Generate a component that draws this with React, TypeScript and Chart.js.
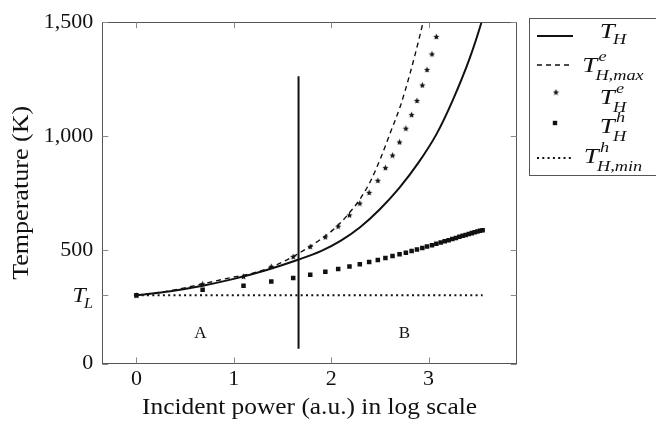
import React, { useEffect, useRef } from 'react';
import { Chart, registerables } from 'chart.js';

Chart.register(...registerables);

// ---------- data ----------
const xTickValues = [0, 1, 2, 3];
const yTickValues = [0, 300, 500, 1000, 1500];
const yTickLabels = ['0', '', '500', '1,000', '1,500'];
const T_L = 300;

// T_H (solid)
const thX = [0, 0.35, 0.68, 1.0, 1.33, 1.66, 1.9, 2.1, 2.3, 2.5, 2.7, 2.9, 3.08, 3.25, 3.42, 3.543, 3.56];
const thY = [300, 318, 342, 372, 410, 456, 495, 540, 600, 678, 772, 885, 1007, 1159, 1339, 1499, 1525];

// T^e_{H,max} (dashed)
const tmaxX = [0, 0.35, 0.7, 1.0, 1.17, 1.41, 1.65, 1.89, 2.04, 2.163, 2.3, 2.402, 2.505, 2.608, 2.71, 2.81, 2.91, 2.96];
const tmaxY = [300, 320, 352, 380, 394, 428, 480, 545, 595, 650, 725, 800, 900, 1015, 1131, 1275, 1440, 1530];

// marker positions (stars / squares)
const markerX = [0, 0.68, 1.1, 1.385, 1.61, 1.785, 1.94, 2.072, 2.188, 2.294, 2.39, 2.479, 2.557, 2.63, 2.702, 2.767,
  2.826, 2.881, 2.936, 2.984, 3.035, 3.08, 3.125, 3.166, 3.206, 3.244, 3.281, 3.316, 3.35, 3.382, 3.413, 3.444,
  3.473, 3.501, 3.528, 3.555];
// T^e_H (stars)
const teY = [300, 350, 383, 427, 470, 514, 557, 604, 653, 705, 752, 805, 861, 916, 974, 1034, 1094, 1156, 1224, 1292, 1361, 1437];
// T^h_H (squares)
const thhY = [300, 324, 342, 360, 376, 390, 403, 415, 426, 436, 446, 455, 464, 472, 480, 487, 494, 501, 508, 514, 520,
  526, 532, 537, 542, 547, 552, 557, 561, 565, 569, 573, 577, 580, 583, 586];

// T^h_{H,min} (dotted)
const tminX = [0, 3.555];
const tminY = [300, 300];

// boundary between regions
const boundaryX = [1.665, 1.665];
const boundaryY = [65, 1262];

const regionLabels = ['A', 'B'];
const regionX = [0.657, 2.752];
const regionY = [132, 132];

const legendSup = ['', 'e', 'e', 'h', 'h'];
const legendSub = ['H', 'H,max', 'H', 'H', 'H,min'];

const xTitle = 'Incident power (a.u.) in log scale';
const yTitle = 'Temperature (K)';

// ---------- helpers ----------
const zip = (xs: number[], ys: number[]) => ys.map((y, i) => ({ x: xs[i], y }));
const INK = '#111111';
const SERIF = '"Liberation Serif", "Times New Roman", serif';

function makeStar(size: number) {
  const c = document.createElement('canvas');
  c.width = size;
  c.height = size;
  const g = c.getContext('2d')!;
  g.fillStyle = INK;
  g.beginPath();
  const R = size / 2 - 0.2;
  for (let i = 0; i < 10; i++) {
    const r = i % 2 === 0 ? R : R * 0.45;
    const a = -Math.PI / 2 + (i * Math.PI) / 5;
    const px = size / 2 + r * Math.cos(a);
    const py = size / 2 + 0.4 + r * Math.sin(a);
    if (i === 0) g.moveTo(px, py);
    else g.lineTo(px, py);
  }
  g.closePath();
  g.fill();
  return c;
}

function drawFit(ctx: CanvasRenderingContext2D, text: string, cx: number, baseline: number, font: string, width: number) {
  ctx.save();
  ctx.font = font;
  const w = ctx.measureText(text).width;
  const s = width / w;
  ctx.translate(cx, baseline);
  ctx.scale(s, 1);
  ctx.textAlign = 'center';
  ctx.textBaseline = 'alphabetic';
  ctx.fillText(text, 0, 0);
  ctx.restore();
}

function drawMath(
  ctx: CanvasRenderingContext2D, anchorX: number, base: number, sup: string, sub: string,
  size: number, stretch: number, align: 'center' | 'right'
) {
  const small = Math.round(size * 0.7);
  const f1 = `italic ${size}px ${SERIF}`;
  const f2 = `italic ${small}px ${SERIF}`;
  ctx.save();
  ctx.font = f1;
  const wT = ctx.measureText('T').width;
  ctx.font = f2;
  const wSup = sup ? ctx.measureText(sup).width : 0;
  const wSub = sub ? ctx.measureText(sub).width : 0;
  const total = wT + Math.max(sup ? wSup + 1 : 0, sub ? wSub - 1.5 : 0);
  const left = align === 'center' ? anchorX - (total * stretch) / 2 : anchorX - total * stretch;
  ctx.translate(left, base);
  ctx.scale(stretch, 1);
  ctx.textAlign = 'left';
  ctx.textBaseline = 'alphabetic';
  ctx.font = f1;
  ctx.fillText('T', 0, 0);
  ctx.font = f2;
  if (sup) ctx.fillText(sup, wT + 1, -size * 0.48);
  if (sub) ctx.fillText(sub, wT - 1.5, sup ? size * 0.36 : size * 0.25);
  ctx.restore();
}

export default function App() {
  const ref = useRef<HTMLCanvasElement | null>(null);

  useEffect(() => {
    document.body.style.margin = '0';
    const canvas = ref.current!;
    const star = makeStar(7);

    const overlay = {
      id: 'overlay',
      afterDatasetsDraw(chart: any) {
        const { ctx, chartArea: a, scales } = chart;
        const x = scales.x;
        const y = scales.y;
        ctx.save();
        // axis box
        ctx.strokeStyle = '#555';
        ctx.lineWidth = 1;
        ctx.setLineDash([]);
        ctx.strokeRect(Math.round(a.left) + 0.5, Math.round(a.top) + 0.5, Math.round(a.right - a.left), Math.round(a.bottom - a.top));
        // inner tick marks
        ctx.strokeStyle = '#888';
        ctx.beginPath();
        xTickValues.forEach((v) => {
          const px = Math.round(x.getPixelForValue(v)) + 0.5;
          ctx.moveTo(px, a.bottom);
          ctx.lineTo(px, a.bottom - 6);
          ctx.moveTo(px, a.top);
          ctx.lineTo(px, a.top + 6);
        });
        yTickValues.forEach((v) => {
          const py = Math.round(y.getPixelForValue(v)) + 0.5;
          ctx.moveTo(a.left, py);
          ctx.lineTo(a.left + 6, py);
          ctx.moveTo(a.right, py);
          ctx.lineTo(a.right - 6, py);
        });
        ctx.stroke();

        ctx.fillStyle = INK;
        // T_L tick label
        drawMath(ctx, 93, y.getPixelForValue(T_L) + 7, '', 'L', 22, 1.08, 'right');

        // region labels
        ctx.font = `17px ${SERIF}`;
        ctx.textAlign = 'center';
        ctx.textBaseline = 'middle';
        regionLabels.forEach((t, i) => {
          ctx.fillText(t, x.getPixelForValue(regionX[i]), y.getPixelForValue(regionY[i]));
        });

        // axis titles
        drawFit(ctx, xTitle, (a.left + a.right) / 2, 414, `23px ${SERIF}`, 335);
        ctx.save();
        ctx.translate(28, (a.top + a.bottom) / 2);
        ctx.rotate(-Math.PI / 2);
        drawFit(ctx, yTitle, 0, 0, `23px ${SERIF}`, 174);
        ctx.restore();

        // legend
        ctx.strokeStyle = '#555';
        ctx.lineWidth = 1;
        ctx.strokeRect(529.5, 18.5, 150, 157);
        const rowsY = [36, 65, 92, 123, 158];
        const baseT = [38, 72, 104, 133, 163];
        ctx.strokeStyle = INK;
        // solid
        ctx.lineWidth = 2;
        ctx.setLineDash([]);
        ctx.beginPath();
        ctx.moveTo(537, rowsY[0]);
        ctx.lineTo(573, rowsY[0]);
        ctx.stroke();
        // dashed
        ctx.lineWidth = 1.4;
        ctx.setLineDash([5, 4]);
        ctx.beginPath();
        ctx.moveTo(537, rowsY[1]);
        ctx.lineTo(573, rowsY[1]);
        ctx.stroke();
        // star
        ctx.setLineDash([]);
        ctx.drawImage(star, 556 - 3.5, rowsY[2] - 3.5);
        // square
        ctx.fillRect(555 - 2.2, rowsY[3] - 2.2, 4.4, 4.4);
        // dotted
        ctx.lineWidth = 2;
        ctx.setLineDash([2, 3.3]);
        ctx.beginPath();
        ctx.moveTo(537, rowsY[4]);
        ctx.lineTo(573, rowsY[4]);
        ctx.stroke();
        ctx.setLineDash([]);
        legendSub.forEach((sub, i) => {
          drawMath(ctx, 613, baseT[i], legendSup[i], sub, 22, 1.22, 'center');
        });
        ctx.restore();
      },
    };

    const chart = new Chart(canvas, {
      type: 'line',
      data: {
        datasets: [
          {
            label: 'T_H', data: zip(thX, thY), borderColor: INK, borderWidth: 2, pointRadius: 0,
            cubicInterpolationMode: 'monotone', fill: false,
          },
          {
            label: 'T_Hmax', data: zip(tmaxX, tmaxY), borderColor: INK, borderWidth: 1.4, borderDash: [5, 4],
            pointRadius: 0, cubicInterpolationMode: 'monotone', fill: false,
          },
          {
            label: 'T_He', data: zip(markerX, teY), showLine: false, pointStyle: star as any,
            pointRadius: 3.5, borderWidth: 0,
          },
          {
            label: 'T_Hh', data: zip(markerX, thhY), showLine: false, pointStyle: 'rect',
            pointRadius: 3.2, backgroundColor: INK, borderColor: INK, borderWidth: 0,
          },
          {
            label: 'T_Hmin', data: zip(tminX, tminY), borderColor: INK, borderWidth: 2, borderDash: [2, 3.3],
            pointRadius: 0, fill: false,
          },
          {
            label: 'boundary', data: zip(boundaryX, boundaryY), borderColor: INK, borderWidth: 2,
            pointRadius: 0, fill: false,
          },
        ] as any,
      },
      options: {
        responsive: false,
        animation: false,
        events: [],
        layout: { padding: { top: 18.3, right: 139.3, left: 0, bottom: 0 } },
        plugins: { legend: { display: false }, tooltip: { enabled: false } },
        scales: {
          x: {
            type: 'linear', min: -0.35, max: 3.905,
            grid: { display: false, drawTicks: false }, border: { display: false },
            afterBuildTicks: (s: any) => { s.ticks = xTickValues.map((v) => ({ value: v })); },
            afterFit: (s: any) => { s.height = 65.5; },
            ticks: {
              padding: 3, autoSkip: false, maxRotation: 0, color: INK,
              font: { family: SERIF, size: 22 },
              callback: (v: any) => String(v),
            },
          },
          y: {
            type: 'linear', min: 0, max: 1500,
            grid: { display: false, drawTicks: false }, border: { display: false },
            afterBuildTicks: (s: any) => { s.ticks = yTickValues.map((v) => ({ value: v })); },
            afterFit: (s: any) => { s.width = 102.3; },
            ticks: {
              padding: 9, autoSkip: false, color: INK,
              font: { family: SERIF, size: 22 },
              callback: (v: any) => yTickLabels[yTickValues.indexOf(Number(v))] ?? '',
            },
          },
        },
      } as any,
      plugins: [overlay],
    });
    return () => chart.destroy();
  }, []);

  return (
    <div style={{ position: 'absolute', left: 0, top: 0, width: 656, height: 429, background: '#fff' }}>
      <canvas ref={ref} width={656} height={429} style={{ display: 'block', width: 656, height: 429 }} />
    </div>
  );
}
